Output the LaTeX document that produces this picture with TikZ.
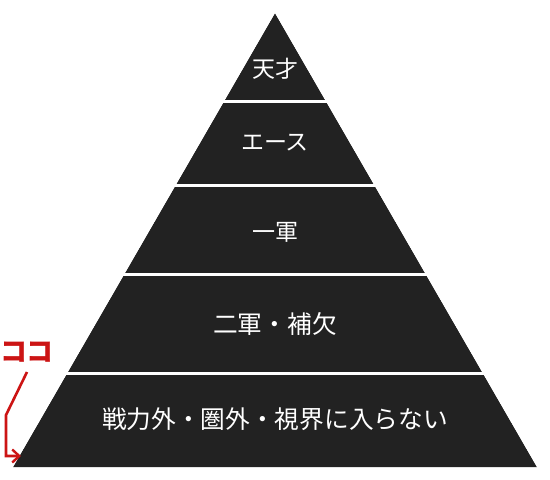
\documentclass[tikz,border=0pt]{standalone}
\usepackage{fontspec}
\newfontfamily\jp{Noto Sans CJK JP}
\usetikzlibrary{arrows.meta}
\definecolor{pyr}{HTML}{222222}
\definecolor{mark}{HTML}{CC1414}
\begin{document}
\begin{tikzpicture}[x=1pt,y=-1pt,
  lbl/.style={text=white,font=\jp\fontsize{23}{25}\selectfont,inner sep=0pt},
  lblw/.style={lbl,font=\jp\fontsize{24.7}{26}\selectfont},
  sep/.style={draw=white,line width=3pt},
  note/.style={text=mark,font=\jp\bfseries\fontsize{27}{29}\selectfont,inner sep=0pt},
  pointer/.style={draw=mark,line width=2.6pt,-{Straight Barb[length=7pt,width=13pt,line width=2.4pt]}}]
\useasboundingbox (0,0) rectangle (550,480);
\fill[pyr] (275,13) coordinate (apex) -- (537,467) coordinate (br) -- (13,467) coordinate (bl) -- cycle;
\foreach \y in {101,185,274,373}{
  \draw[sep] (0,\y) -- (550,\y);
}
\fill[white] (0,0) -- (275,13) -- (13,467) -- (0,480) -- cycle;
\fill[white] (550,0) -- (275,13) -- (537,467) -- (550,480) -- cycle;
\node[lbl] (t1) at (275,69) {天才};
\node[lbl] (t2) at (275,143) {エース};
\node[lbl] (t3) at (275,232) {一軍};
\node[lblw] (t4) at (275,324) {二軍・補欠};
\node[lblw] (t5) at (275,419) {戦力外・圏外・視界に入らない};
\node[note] (n) at (27,352) {ココ};
\coordinate (p1) at (27,372);
\coordinate (p2) at (6,415);
\coordinate (p3) at (6,456);
\coordinate (p4) at (21,456);
\draw[pointer] (p1) -- (p2) -- (p3) -- (p4);
\end{tikzpicture}
\end{document}
